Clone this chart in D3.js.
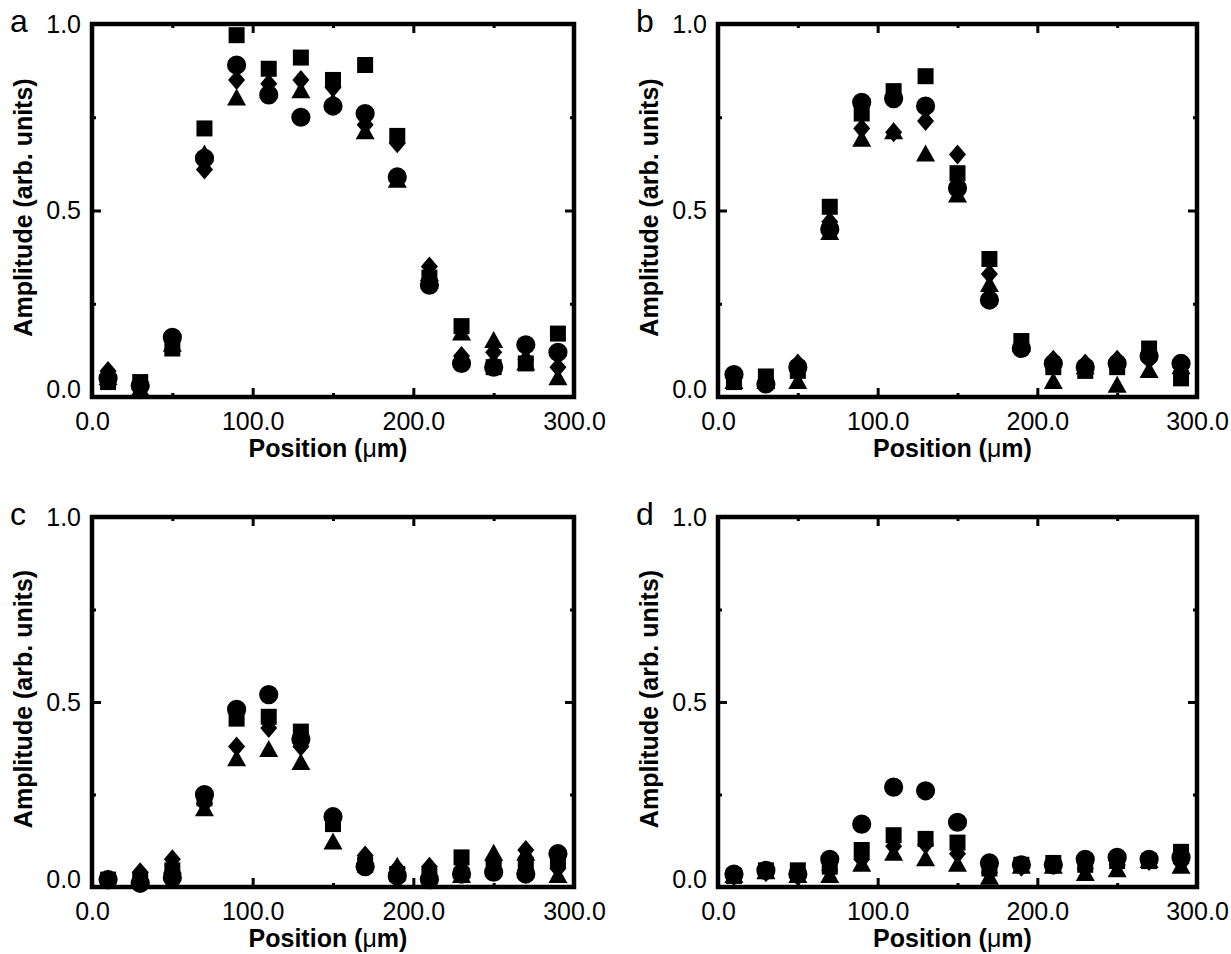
<!DOCTYPE html>
<html>
<head>
<meta charset="utf-8">
<script src="https://cdn.jsdelivr.net/npm/d3@7"></script>
<style>
  body { margin: 0; background: #fff; }
  svg text { font-family: "Liberation Sans", Arial, Helvetica, sans-serif; fill: #000; }
</style>
</head>
<body>
<svg id="chart" width="1231" height="954"></svg>
<script>
// positions along the channel (um)
const positions = [10, 30, 50, 70, 90, 110, 130, 150, 170, 190, 210, 230, 250, 270, 290];

const xTicks = [0, 100, 200, 300];
const xMinor = [50, 150, 250];
const yTicks = [0, 0.5, 1.0];
const yMinor = [0.25, 0.75];

// panel a
const squaresA   = [0.04, 0.04, 0.13, 0.72, 0.97, 0.88, 0.91, 0.85, 0.89, 0.70, 0.32, 0.19, 0.08, 0.09, 0.17];
const circlesA   = [0.05, 0.03, 0.16, 0.64, 0.89, 0.81, 0.75, 0.78, 0.76, 0.59, 0.30, 0.09, 0.08, 0.14, 0.12];
const diamondsA  = [0.07, 0.02, 0.15, 0.61, 0.85, 0.84, 0.85, 0.83, 0.73, 0.68, 0.35, 0.11, 0.12, 0.10, 0.08];
const trianglesA = [0.05, 0.02, 0.14, 0.65, 0.80, 0.82, 0.82, 0.79, 0.71, 0.58, 0.33, 0.17, 0.15, 0.09, 0.05];
// panel b
const squaresB   = [0.04, 0.055, 0.07, 0.51, 0.76, 0.82, 0.86, 0.60, 0.37, 0.15, 0.08, 0.07, 0.08, 0.13, 0.05];
const circlesB   = [0.06, 0.035, 0.08, 0.45, 0.79, 0.80, 0.78, 0.56, 0.26, 0.13, 0.09, 0.08, 0.09, 0.11, 0.09];
const diamondsB  = [0.05, 0.04, 0.09, 0.47, 0.72, 0.71, 0.74, 0.65, 0.33, 0.14, 0.10, 0.09, 0.10, 0.10, 0.08];
const trianglesB = [0.04, 0.04, 0.04, 0.44, 0.69, 0.71, 0.65, 0.54, 0.30, 0.14, 0.04, 0.08, 0.03, 0.07, 0.08];
// panel c
const squaresC   = [0.02, 0.02, 0.045, 0.24, 0.455, 0.46, 0.42, 0.17, 0.06, 0.035, 0.03, 0.08, 0.05, 0.06, 0.07];
const circlesC   = [0.02, 0.01, 0.025, 0.25, 0.48, 0.52, 0.40, 0.19, 0.055, 0.03, 0.02, 0.035, 0.04, 0.035, 0.09];
const diamondsC  = [0.02, 0.04, 0.075, 0.225, 0.38, 0.43, 0.38, 0.18, 0.085, 0.05, 0.055, 0.05, 0.07, 0.10, 0.05];
const trianglesC = [0.015, 0.03, 0.055, 0.21, 0.345, 0.37, 0.335, 0.12, 0.07, 0.055, 0.045, 0.03, 0.09, 0.09, 0.03];
// panel d
const squaresD   = [0.03, 0.045, 0.045, 0.055, 0.10, 0.14, 0.13, 0.12, 0.05, 0.06, 0.065, 0.06, 0.07, 0.07, 0.095];
const circlesD   = [0.035, 0.045, 0.035, 0.075, 0.17, 0.27, 0.26, 0.175, 0.065, 0.06, 0.06, 0.075, 0.08, 0.075, 0.08];
const diamondsD  = [0.03, 0.04, 0.03, 0.045, 0.075, 0.11, 0.115, 0.09, 0.04, 0.055, 0.06, 0.05, 0.06, 0.07, 0.065];
const trianglesD = [0.03, 0.04, 0.03, 0.03, 0.06, 0.09, 0.075, 0.06, 0.025, 0.055, 0.055, 0.035, 0.045, 0.07, 0.055];

const panels = [
    { letter: "a", left: 92,  right: 574,  top: 24,  bottom: 397, series: [squaresA, circlesA, diamondsA, trianglesA] },
    { letter: "b", left: 718, right: 1197, top: 24,  bottom: 397, series: [squaresB, circlesB, diamondsB, trianglesB] },
    { letter: "c", left: 92,  right: 574,  top: 517, bottom: 887, series: [squaresC, circlesC, diamondsC, trianglesC] },
    { letter: "d", left: 718, right: 1197, top: 517, bottom: 887, series: [squaresD, circlesD, diamondsD, trianglesD] }
];

// marker shapes, same order as series
const shapes = [
    "M-8,-8h16v16h-16Z",                                   // square
    d3.symbol(d3.symbolCircle, 290)(),                     // circle
    "M0,-10L8.5,0L0,10L-8.5,0Z",                           // diamond
    "M0,-10L9.5,7L-9.5,7Z"                                 // triangle
];

const svg = d3.select("#chart");
svg.append("rect").attr("width", 1231).attr("height", 954).attr("fill", "#fff");

const fmt = d3.format(".1f");

panels.forEach(p => {
    const x = d3.scaleLinear().domain([0, 300]).range([p.left, p.right]);
    const y = d3.scaleLinear().domain([0, 1]).range([p.bottom, p.top]);
    const g = svg.append("g");

    // markers
    p.series.forEach((vals, si) => {
        g.append("g").selectAll("path")
            .data(vals)
            .join("path")
            .attr("d", shapes[si])
            .attr("transform", (d, i) => `translate(${x(positions[i])},${y(d)})`)
            .attr("fill", "#000");
    });

    // inward ticks on all four sides
    const tickStyle = sel => {
        sel.select(".domain").remove();
        sel.selectAll(".tick line").attr("stroke", "#000").attr("stroke-width", 3);
    };
    g.append("g").attr("transform", `translate(0,${p.bottom})`)
        .call(d3.axisBottom(x).tickValues(xTicks).tickSize(-9).tickPadding(15).tickFormat(fmt))
        .call(tickStyle)
        .call(s => s.selectAll("text").attr("font-size", 25).attr("font-family", null));
    g.append("g").attr("transform", `translate(0,${p.bottom})`)
        .call(d3.axisBottom(x).tickValues(xMinor).tickSize(-4).tickFormat(""))
        .call(tickStyle);
    g.append("g").attr("transform", `translate(0,${p.top})`)
        .call(d3.axisTop(x).tickValues(xTicks.concat(xMinor)).tickSize(-9).tickFormat(""))
        .call(tickStyle)
        .call(s => s.selectAll(".tick line").filter(d => xMinor.includes(d)).attr("y2", 4));
    g.append("g").attr("transform", `translate(${p.left},0)`)
        .call(d3.axisLeft(y).tickValues(yTicks).tickSize(-9).tickPadding(11).tickFormat(fmt))
        .call(tickStyle)
        .call(s => s.selectAll("text").attr("font-size", 25).attr("font-family", null)
            .filter(d => d === 0).attr("dy", "0em"));
    g.append("g").attr("transform", `translate(${p.left},0)`)
        .call(d3.axisLeft(y).tickValues(yMinor).tickSize(-4).tickFormat(""))
        .call(tickStyle);
    g.append("g").attr("transform", `translate(${p.right},0)`)
        .call(d3.axisRight(y).tickValues(yTicks.concat(yMinor)).tickSize(-9).tickFormat(""))
        .call(tickStyle)
        .call(s => s.selectAll(".tick line").filter(d => yMinor.includes(d)).attr("x2", -4));

    // frame
    g.append("rect")
        .attr("x", p.left).attr("y", p.top)
        .attr("width", p.right - p.left).attr("height", p.bottom - p.top)
        .attr("fill", "none").attr("stroke", "#000").attr("stroke-width", 4.5);

    // titles
    const xt = g.append("text")
        .attr("x", (p.left + p.right) / 2 - 5).attr("y", p.bottom + 60)
        .attr("text-anchor", "middle").attr("font-size", 25).attr("font-weight", "bold");
    xt.append("tspan").text("Position (");
    xt.append("tspan").attr("font-weight", "normal").text("\u03bc");
    xt.append("tspan").text("m)");

    g.append("text")
        .attr("transform", `translate(${p.left - 60},${(p.top + p.bottom) / 2 - 3}) rotate(-90)`)
        .attr("text-anchor", "middle").attr("font-size", 25).attr("font-weight", "bold")
        .text("Amplitude (arb. units)");

    g.append("text")
        .attr("x", p.left - 82).attr("y", p.top + 8)
        .attr("font-size", 32)
        .text(p.letter);
});
</script>
</body>
</html>
